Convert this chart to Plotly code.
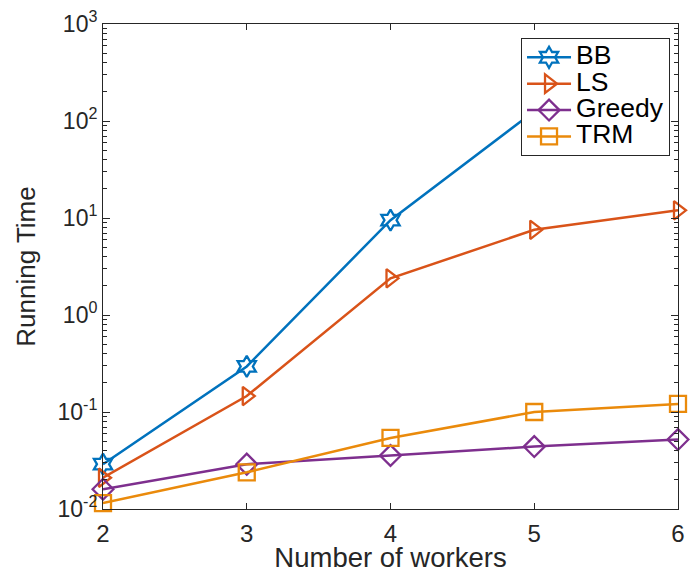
import plotly.graph_objects as go

# Number of workers on the x axis
workers = [2, 3, 4, 5, 6]

# Running time (seconds) of each method
bb_time = [0.029, 0.295, 9.5, 126]          # BB stops at 5 workers
ls_time = [0.021, 0.146, 2.39, 7.55, 12.0]
greedy_time = [0.016, 0.029, 0.0356, 0.044, 0.052]
trm_time = [0.0115, 0.0239, 0.054, 0.100, 0.121]

series = [
    ("BB", workers[:len(bb_time)], bb_time, "#0072BD", "hexagram-open"),
    ("LS", workers, ls_time, "#D95319", "triangle-right-open"),
    ("Greedy", workers, greedy_time, "#7E2F8E", "diamond-open"),
    ("TRM", workers, trm_time, "#EA8A0B", "square-open"),
]

y_tick_vals = [0.01, 0.1, 1, 10, 100, 1000]
y_tick_text = ["10<sup>-2</sup>", "10<sup>-1</sup>", "10<sup>0</sup>",
               "10<sup>1</sup>", "10<sup>2</sup>", "10<sup>3</sup>"]
y_minor_vals = [m * d for d in [0.01, 0.1, 1, 10, 100] for m in range(2, 10)]

FONT = "Liberation Sans, Arial, Helvetica, sans-serif"
AXIS = "#262626"

fig = go.Figure()
for name, xs, ys, color, symbol in series:
    fig.add_trace(go.Scatter(
        x=xs, y=ys,
        # larger legend text while the legend keeps compact row spacing
        name=f'<span style="font-size:26.5px">{name}</span>',
        mode="lines+markers",
        line=dict(color=color, width=2.5),
        marker=dict(symbol=symbol, size=16, color=color,
                    line=dict(color=color, width=2.3)),
        cliponaxis=False,
        hovertemplate=f"{name}: %{{y}}<extra></extra>",
    ))

fig.update_layout(
    width=692, height=573,
    margin=dict(l=103, r=7, t=23, b=60),
    paper_bgcolor="white", plot_bgcolor="white",
    font=dict(family=FONT, color=AXIS),
    showlegend=True,
    legend=dict(
        x=0.727, y=0.971, xanchor="left", yanchor="top",
        xref="paper", yref="paper",
        bgcolor="white", bordercolor=AXIS, borderwidth=1,
        font=dict(family=FONT, size=18, color="black"),
        tracegroupgap=0, itemwidth=44,
    ),
)

fig.update_xaxes(
    range=[2, 6], tickvals=workers, ticktext=[str(w) for w in workers],
    showline=True, linecolor=AXIS, linewidth=1, mirror="allticks",
    ticks="inside", ticklen=6, tickcolor=AXIS,
    showgrid=False, zeroline=False,
    tickfont=dict(family=FONT, size=24, color=AXIS),
    ticklabelstandoff=3,
    title=dict(text="Number of workers", standoff=0,
               font=dict(family=FONT, size=27.5, color=AXIS)),
)

fig.update_yaxes(
    type="log", range=[-2, 3],
    tickmode="array", tickvals=y_tick_vals, ticktext=y_tick_text,
    showline=True, linecolor=AXIS, linewidth=1, mirror="allticks",
    ticks="inside", ticklen=7, tickcolor=AXIS,
    minor=dict(tickmode="array", tickvals=y_minor_vals, ticks="inside",
               ticklen=4, tickcolor=AXIS, showgrid=False),
    showgrid=False, zeroline=False,
    tickfont=dict(family=FONT, size=23, color=AXIS),
    title=dict(text="Running Time", standoff=14,
               font=dict(family=FONT, size=26, color=AXIS)),
)

fig.write_html("out.html")
